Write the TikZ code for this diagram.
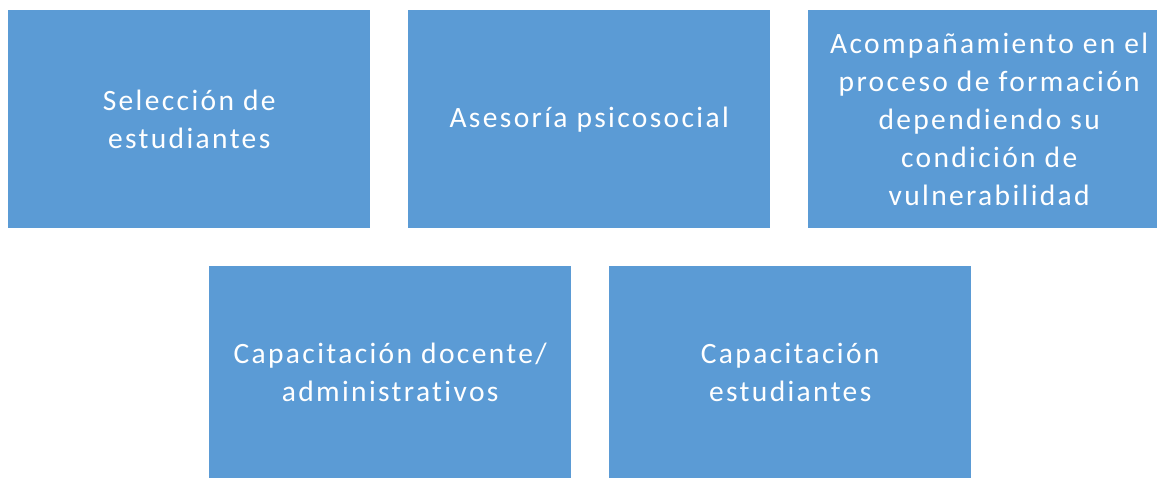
\documentclass[tikz,border=0pt]{standalone}
\usepackage{fontspec}
\setmainfont{Carlito}
\newfontfamily\cardfont[LetterSpace=8,Ligatures={NoCommon}]{Carlito}
\definecolor{boxblue}{HTML}{5B9BD5}
\begin{document}
\begin{tikzpicture}[x=1pt,y=-1pt,
  card/.style={fill=boxblue,draw=none,minimum width=362pt,minimum height=218pt,inner sep=0pt,
    text=white,align=center,font=\cardfont\fontsize{29.5}{38}\selectfont,anchor=north west}]
\useasboundingbox (0,0) rectangle (1157,478);
\clip (0,0) rectangle (1157,478);
\node[card] (a) at (8,10) {Selección de\\estudiantes};
\node[card] (b) at (408,10) {Asesoría psicosocial};
\node[card] (c) at (808,10) {Acompañamiento en el\\proceso de formación\\dependiendo su\\condición de\\vulnerabilidad};
\node[card,minimum height=212pt] (d) at (209,266) {Capacitación docente/\\administrativos};
\node[card,minimum height=212pt] (e) at (609,266) {Capacitación\\estudiantes};
\end{tikzpicture}
\end{document}
